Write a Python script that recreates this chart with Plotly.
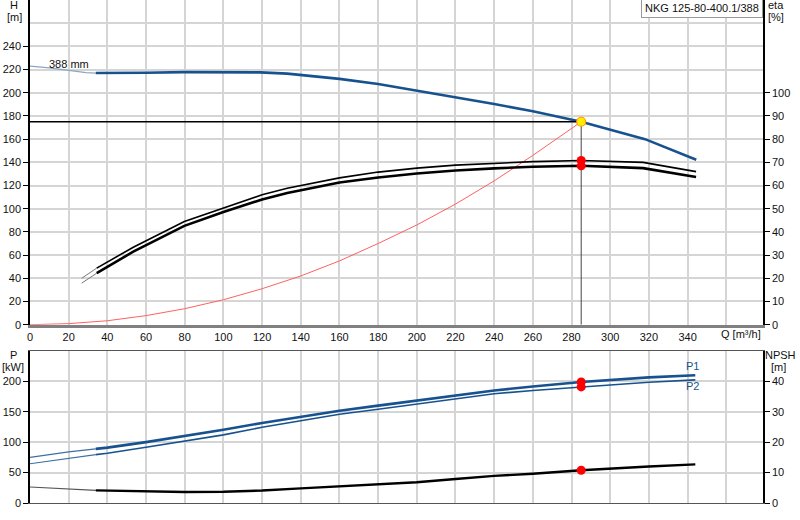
import plotly.graph_objects as go

# H curve, impeller 388 mm
q_h = [0, 10, 20, 29, 34, 40, 60, 80, 100, 110, 119, 133, 160, 180, 200, 220, 240, 260, 285, 318, 344.5]
h = [223, 221.5, 219.3, 217.4, 217, 217, 217.3, 217.8, 218, 218, 217.6, 216.5, 212, 207.6, 202, 196, 190.3, 184, 175, 160, 142.2]

# efficiency curves (eta axis)
q_eta = [26.7, 34.5, 53.4, 79.8, 100, 120, 133, 160, 180, 200, 220, 240, 260, 285, 317, 344.4]
eta_upper = [20, 24.4, 33.4, 44.5, 50.4, 56, 58.8, 63.3, 65.8, 67.5, 68.8, 69.7, 70.3, 70.8, 70, 66]
eta_lower = [17.9, 22.2, 31.5, 42.6, 48.6, 54, 56.8, 61.3, 63.5, 65.2, 66.5, 67.4, 68.1, 68.5, 67.5, 63.7]

# system curve
q_sys = [0, 20, 40, 60, 80, 100, 120, 140, 160, 180, 200, 220, 240, 260, 285]
h_sys = [0, 0.9, 3.4, 7.8, 13.8, 21.5, 31, 42, 55, 70, 86, 104, 124, 146, 175]

# power and NPSH
q_p = [0, 20, 34, 40, 60, 80, 100, 120, 140, 160, 180, 200, 220, 240, 260, 285, 320, 344]
p1 = [75, 84, 89, 91, 100, 110, 120.5, 131.5, 142, 151.5, 160, 168.5, 177, 185, 191.5, 199, 206.5, 210]
p2 = [64.6, 73.5, 79.5, 81.7, 91.5, 101.4, 112, 124.5, 135.5, 146, 154, 162.3, 171, 179.5, 185, 190.8, 198.5, 202.3]
npsh = [5.26, 4.5, 4.15, 4.05, 3.7, 3.6, 3.7, 4.1, 4.8, 5.4, 6.1, 6.8, 7.9, 8.9, 9.6, 10.75, 12, 12.7]

# duty point
q_duty = 285
h_duty = 175
eta_duty = [70.8, 68.5]
p_duty = [199, 190.8]
npsh_duty = 10.75

q_ticks = list(range(0, 341, 20))
h_ticks = list(range(0, 241, 20))
eta_ticks = list(range(0, 101, 10))
p_ticks = [0, 50, 100, 150, 200]
npsh_ticks = [0, 10, 20, 30, 40]

Q_THICK = 34  # curves are drawn thin below this flow
BLUE = "#17528f"
FONT = "Liberation Sans, Arial, sans-serif"
GRID = "#d5d5d5"


def split(q, v, lim):
    thin = [(a, b) for a, b in zip(q, v) if a <= lim]
    thick = [(a, b) for a, b in zip(q, v) if a >= lim]
    if thin and thin[-1][0] < lim and thick:
        # join the two parts
        thin.append(thick[0])
    return [list(t) for t in zip(*thin)], [list(t) for t in zip(*thick)]


fig = go.Figure()

# top chart
fig.add_trace(go.Scatter(x=q_sys, y=h_sys, mode="lines", line=dict(color="#ff6060", width=1), xaxis="x", yaxis="y"))

for vals, w in [(eta_upper, 1.6), (eta_lower, 2.6)]:
    thin, thick = split(q_eta, vals, Q_THICK)
    fig.add_trace(go.Scatter(x=thin[0], y=thin[1], mode="lines", line=dict(color="#777777", width=1), xaxis="x", yaxis="y2"))
    fig.add_trace(go.Scatter(x=thick[0], y=thick[1], mode="lines", line=dict(color="black", width=w), xaxis="x", yaxis="y2"))

thin, thick = split(q_h, h, Q_THICK)
fig.add_trace(go.Scatter(x=thin[0], y=thin[1], mode="lines", line=dict(color="#8aa6c4", width=1.2), xaxis="x", yaxis="y"))
fig.add_trace(go.Scatter(x=thick[0], y=thick[1], mode="lines", line=dict(color=BLUE, width=2.6), xaxis="x", yaxis="y"))

# duty point lines
fig.add_trace(go.Scatter(x=[0, q_duty], y=[h_duty, h_duty], mode="lines", line=dict(color="black", width=1.3), xaxis="x", yaxis="y"))
fig.add_trace(go.Scatter(x=[q_duty, q_duty], y=[0, h_duty], mode="lines", line=dict(color="#444444", width=1), xaxis="x", yaxis="y"))
fig.add_trace(go.Scatter(x=[q_duty] * 2, y=eta_duty, mode="markers", marker=dict(color="red", size=9), xaxis="x", yaxis="y2"))
fig.add_trace(go.Scatter(x=[q_duty], y=[h_duty], mode="markers",
                         marker=dict(color="#ffee00", size=9, line=dict(color="#ff9900", width=1.2)), xaxis="x", yaxis="y"))

# bottom chart
for vals, w in [(p2, 1.6), (p1, 2.6)]:
    thin, thick = split(q_p, vals, Q_THICK)
    fig.add_trace(go.Scatter(x=thin[0], y=thin[1], mode="lines", line=dict(color="#3f6fa3", width=1.1), xaxis="x2", yaxis="y3"))
    fig.add_trace(go.Scatter(x=thick[0], y=thick[1], mode="lines", line=dict(color=BLUE, width=w), xaxis="x2", yaxis="y3"))

thin, thick = split(q_p, npsh, Q_THICK)
fig.add_trace(go.Scatter(x=thin[0], y=thin[1], mode="lines", line=dict(color="#555555", width=1.1), xaxis="x2", yaxis="y4"))
fig.add_trace(go.Scatter(x=thick[0], y=thick[1], mode="lines", line=dict(color="black", width=2.4), xaxis="x2", yaxis="y4"))

fig.add_trace(go.Scatter(x=[q_duty] * 2, y=p_duty, mode="markers", marker=dict(color="red", size=9), xaxis="x2", yaxis="y3"))
fig.add_trace(go.Scatter(x=[q_duty], y=[npsh_duty], mode="markers", marker=dict(color="red", size=9), xaxis="x2", yaxis="y4"))

tickfont = dict(family=FONT, size=11, color="#111111")
xrange = [0, 379]

fig.update_layout(
    width=800,
    height=520,
    margin=dict(l=30, r=37, t=0, b=17),
    showlegend=False,
    plot_bgcolor="white",
    paper_bgcolor="white",
    font=dict(family=FONT, size=11, color="#111111"),
    xaxis=dict(domain=[0, 1], range=xrange, anchor="y", tickmode="array", tickvals=q_ticks,
               tickfont=tickfont, showgrid=True, gridcolor=GRID, gridwidth=1.5,
               minor=dict(dtick=20, showgrid=True, gridcolor=GRID, gridwidth=1.5),
               showline=True, linecolor="#808080", linewidth=3, zeroline=False, ticks="",
               automargin=False),
    yaxis=dict(domain=[0.3545, 1], range=[0, 280], tickmode="array", tickvals=h_ticks,
               tickfont=tickfont, showgrid=True, gridcolor=GRID, gridwidth=1.5,
               minor=dict(dtick=20, showgrid=True, gridcolor=GRID, gridwidth=1.5),
               showline=True, linecolor="black", linewidth=1.5, ticks="outside", ticklen=5,
               tickcolor="black", zeroline=False, automargin=False),
    yaxis2=dict(overlaying="y", side="right", anchor="x", range=[0, 140], tickmode="array",
                tickvals=eta_ticks, tickfont=tickfont, showgrid=False, showline=True,
                linecolor="black", linewidth=1.5, ticks="outside", ticklen=5, tickcolor="black",
                zeroline=False, automargin=False),
    xaxis2=dict(domain=[0, 1], range=xrange, anchor="y3", tickmode="array", tickvals=q_ticks,
                showticklabels=False, showgrid=True, gridcolor=GRID, gridwidth=1.5,
                minor=dict(dtick=20, showgrid=True, gridcolor=GRID, gridwidth=1.5),
                showline=True, mirror=True, linecolor="#555555", linewidth=1.2, zeroline=False, ticks="",
                automargin=False),
    yaxis3=dict(domain=[0, 0.3024], range=[0, 250], tickmode="array", tickvals=p_ticks,
                tickfont=tickfont, showgrid=True, gridcolor=GRID, gridwidth=1.5,
                showline=True, linecolor="black", linewidth=1.5, ticks="outside", ticklen=5,
                tickcolor="black", zeroline=False, automargin=False),
    yaxis4=dict(overlaying="y3", side="right", anchor="x2", range=[0, 50], tickmode="array",
                tickvals=npsh_ticks, tickfont=tickfont, showgrid=False, showline=True,
                linecolor="black", linewidth=1.5, ticks="outside", ticklen=5, tickcolor="black",
                zeroline=False, automargin=False),
)

# model box first, so the axis titles are drawn over it
fig.add_annotation(text="NKG 125-80-400.1/388", xref="paper", yref="paper", x=1, y=1,
                   xanchor="right", yanchor="top", yshift=2, showarrow=False,
                   font=dict(family=FONT, size=11, color="#111111"),
                   bordercolor="#999999", borderwidth=1, borderpad=3, bgcolor="white")


def label(text, x, y, **kw):
    fig.add_annotation(text=text, xref="paper", yref="paper", x=x, y=y, showarrow=False,
                       xanchor="center", yanchor="middle",
                       font=dict(family=FONT, size=11, color="#111111"), **kw)


# axis titles, pixel positions converted to paper coords
def px(xp, yp):
    return (xp - 30) / 733, (503 - yp) / 503


label("H", *px(14, 5))
label("[m]", *px(14, 17))
label("eta", *px(776, 5))
label("[%]", *px(776, 17))
label("P", *px(13, 355))
label("[kW]", *px(13, 367))
label("NPSH", *px(780, 355))
label("[m]", *px(778, 367))
label("Q [m³/h]", *px(741, 334))

fig.add_annotation(text="388 mm", x=9, y=224.5, xref="x", yref="y", xanchor="left",
                   showarrow=False, font=dict(family=FONT, size=11, color="#111111"))
fig.add_annotation(text="P1", x=342.6, y=225, xref="x2", yref="y3", showarrow=False,
                   xanchor="center", font=dict(family=FONT, size=11, color=BLUE))
fig.add_annotation(text="P2", x=342.6, y=193, xref="x2", yref="y3", showarrow=False,
                   xanchor="center", font=dict(family=FONT, size=11, color=BLUE))

# page body has a default 8px margin; drop it so the chart fills the window
fig.write_html("out.html", config={"displayModeBar": False},
               post_script="document.body.style.margin='0';")
